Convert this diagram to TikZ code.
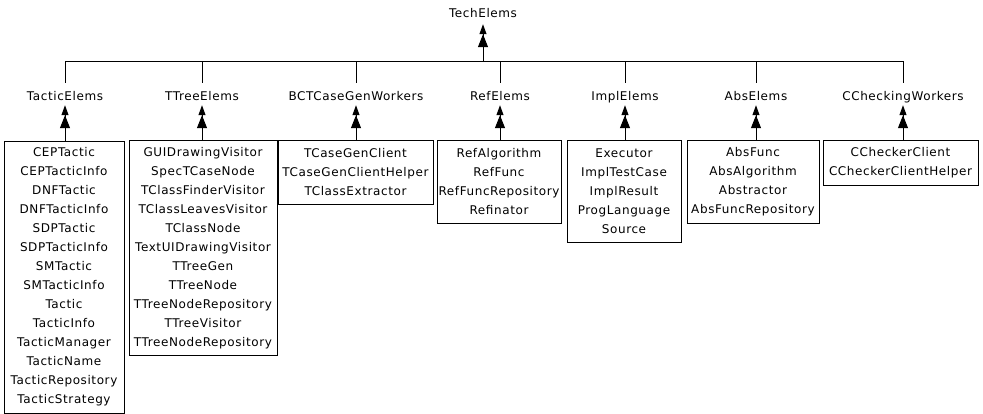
\documentclass[tikz,border=0pt]{standalone}
\usepackage{fontspec}
\setmainfont{DejaVu Sans}[LetterSpace=5.0]
\usetikzlibrary{arrows.meta}
\begin{document}
\begin{tikzpicture}[x=1pt,y=-1pt,
  every node/.style={font=\fontsize{12}{19}\selectfont},
  lab/.style={inner sep=0pt,text height=9pt,text depth=0pt},
  box/.style={draw,line width=1pt,align=center,inner sep=0pt},
  link/.style={line width=1pt},
  arr/.style={line width=1pt,-{Triangle[width=10pt,length=13pt]Triangle[width=7pt,length=10pt]}}]
\useasboundingbox (0,0) rectangle (983,413);
% labels
\node[lab] (tech) at (483,13) {TechElems};
\node[lab] (lTactic) at (65,96) {TacticElems};
\node[lab] (lTTree) at (202,96) {TTreeElems};
\node[lab] (lBCT) at (356,96) {BCTCaseGenWorkers};
\node[lab] (lRef) at (500,96) {RefElems};
\node[lab] (lImpl) at (625,96) {ImplElems};
\node[lab] (lAbs) at (756,96) {AbsElems};
\node[lab] (lCC) at (903,96) {CCheckingWorkers};
% boxes
\node[box,minimum width=120pt,minimum height=272pt] (bTactic) at (64,277)
 {CEPTactic\\CEPTacticInfo\\DNFTactic\\DNFTacticInfo\\SDPTactic\\SDPTacticInfo\\SMTactic\\SMTacticInfo\\Tactic\\TacticInfo\\TacticManager\\TacticName\\TacticRepository\\TacticStrategy};
\node[box,minimum width=148pt,minimum height=215pt] (bTTree) at (203,248)
 {GUIDrawingVisitor\\SpecTCaseNode\\TClassFinderVisitor\\TClassLeavesVisitor\\TClassNode\\TextUIDrawingVisitor\\TTreeGen\\TTreeNode\\TTreeNodeRepository\\TTreeVisitor\\TTreeNodeRepository};
\node[box,minimum width=155pt,minimum height=64pt] (bBCT) at (355.5,172)
 {TCaseGenClient\\TCaseGenClientHelper\\TClassExtractor};
\node[box,minimum width=124pt,minimum height=83pt] (bRef) at (499,181.5)
 {RefAlgorithm\\RefFunc\\RefFuncRepository\\Refinator};
\node[box,minimum width=114pt,minimum height=102pt] (bImpl) at (624,191)
 {Executor\\ImplTestCase\\ImplResult\\ProgLanguage\\Source};
\node[box,minimum width=132pt,minimum height=83pt] (bAbs) at (753,181.5)
 {AbsFunc\\AbsAlgorithm\\Abstractor\\AbsFuncRepository};
\node[box,minimum width=155pt,minimum height=45pt] (bCC) at (900.5,162.5)
 {CCheckerClient\\CCheckerClientHelper};
% bus
\coordinate (bus) at (483,61);
\draw[link] (lTactic |- bus) -- (lCC |- bus);
\draw[arr] (bus) -- ([yshift=-6.5pt]tech.south);
\foreach \l in {lTactic,lTTree,lBCT,lRef,lImpl,lAbs,lCC}
  \draw[link] (\l |- bus) -- ([yshift=8.5pt]\l.north);
\foreach \b/\l in {bTactic/lTactic,bTTree/lTTree,bBCT/lBCT,bRef/lRef,bImpl/lImpl,bAbs/lAbs,bCC/lCC}
  \draw[arr] (\b.north -| \l) -- ([yshift=-4.5pt]\l.south);
\end{tikzpicture}
\end{document}
